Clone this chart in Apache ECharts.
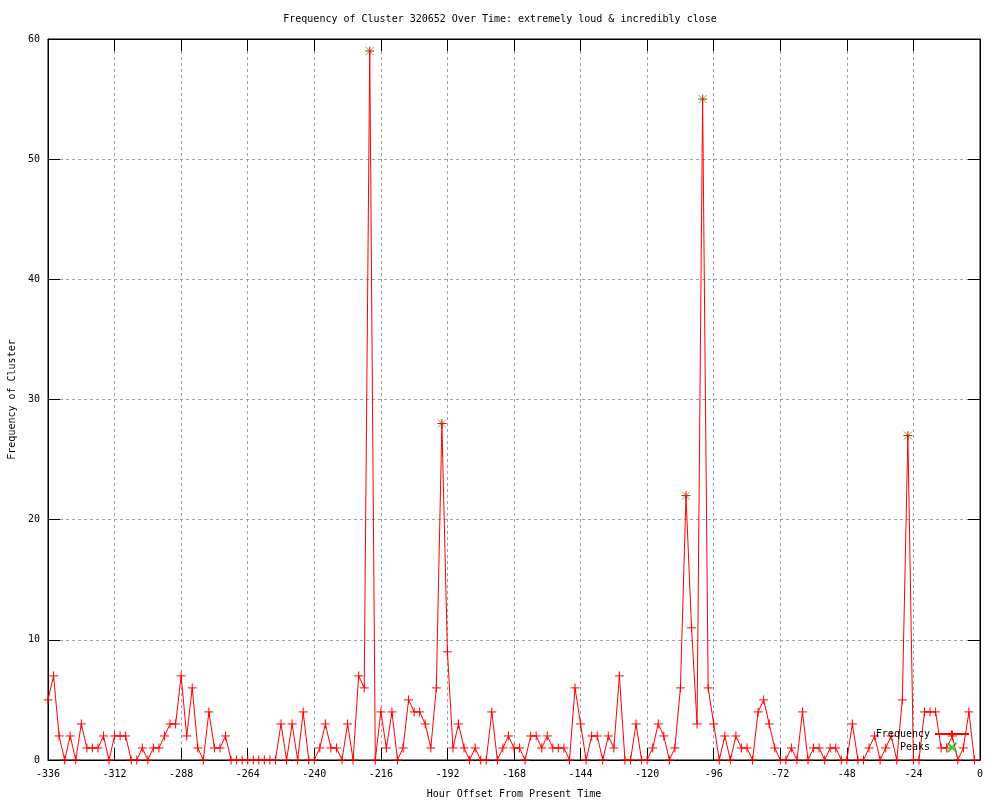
<!DOCTYPE html>
<html>
<head>
<meta charset="utf-8">
<script src="https://cdn.jsdelivr.net/npm/echarts@6/dist/echarts.min.js"></script>
<style>
html,body{margin:0;padding:0;background:#fff;}
#chart{width:1000px;height:800px;}
</style>
</head>
<body>
<div id="chart"></div>
<script>
const titleText = 'Frequency of Cluster 320652 Over Time: extremely loud & incredibly close';
const xAxisName = 'Hour Offset From Present Time';
const yAxisName = 'Frequency of Cluster';
const startHour = -336;
const stepHours = 2;
const frequency = [
  5,7,2,0,2,0,3,1,1,1,2,0,2,2,2,0,0,1,0,1,
  1,2,3,3,7,2,6,1,0,4,1,1,2,0,0,0,0,0,0,0,
  0,0,3,0,3,0,4,0,0,1,3,1,1,0,3,0,7,6,59,0,
  4,1,4,0,1,5,4,4,3,1,6,28,9,1,3,1,0,1,0,0,
  4,0,1,2,1,1,0,2,2,1,2,1,1,1,0,6,3,0,2,2,
  0,2,1,7,0,0,3,0,0,1,3,2,0,1,6,22,11,3,55,6,
  3,0,2,0,2,1,1,0,4,5,3,1,0,0,1,0,4,0,1,1,
  0,1,1,0,0,3,0,0,1,2,0,1,2,0,5,27,0,0,4,4,
  4,1,1,2,0,1,4,0
];
const peakHours = [-220, -194, -106, -100, -26];
const peakValues = [59, 28, 22, 55, 27];

const hours = frequency.map((_, i) => startHour + stepHours * i);
const freqData = hours.map((h, i) => [h, frequency[i]]);
const peakData = peakHours.map((h, i) => [h, peakValues[i]]);

const FONT = 'DejaVu Sans Mono';
const txt = {fontFamily: FONT, fontSize: 10, color: '#000'};

const chart = echarts.init(document.getElementById('chart'), null, {renderer: 'canvas'});
const xBase = {
  type: 'value', min: -336, max: 0, interval: 24,
  axisLine: {show: true, onZero: false, lineStyle: {color: '#000', width: 1}},
  axisTick: {show: true, inside: true, length: 12, lineStyle: {color: '#000'}},
  splitLine: {show: false}
};
const yBase = {
  type: 'value', min: 0, max: 60, interval: 10,
  axisLine: {show: true, onZero: false, lineStyle: {color: '#000', width: 1}},
  axisTick: {show: true, inside: true, length: 12, lineStyle: {color: '#000'}},
  splitLine: {show: false}
};
chart.setOption({
  animation: false,
  backgroundColor: '#fff',
  title: {
    text: titleText, left: 'center', top: 9,
    textStyle: Object.assign({}, txt, {fontWeight: 'normal'})
  },
  legend: {
    orient: 'vertical', right: 25, top: 724, align: 'right',
    itemWidth: 34, itemHeight: 9, itemGap: 3,
    textStyle: txt,
    data: [
      {name: 'Frequency'},
      {name: 'Peaks', icon: 'path://M2,2L8,8M8,2L2,8'}
    ]
  },
  grid: {left: 48, right: 20, top: 39, bottom: 40, show: true, borderColor: '#000', borderWidth: 1,
         containLabel: false, outerBoundsMode: 'none'},
  xAxis: [
    Object.assign({}, xBase, {
      position: 'bottom',
      name: xAxisName, nameLocation: 'middle', nameGap: 29, nameTextStyle: txt,
      axisLabel: Object.assign({}, txt, {margin: 9}),
      splitLine: {show: true, lineStyle: {color: '#a0a0a0', type: [3, 3], width: 1}}
    }),
    Object.assign({}, xBase, {position: 'top', axisLabel: {show: false}})
  ],
  yAxis: [
    Object.assign({}, yBase, {
      position: 'left',
      name: yAxisName, nameLocation: 'middle', nameGap: 30, nameTextStyle: txt,
      axisLabel: Object.assign({}, txt, {margin: 8}),
      splitLine: {show: true, lineStyle: {color: '#a0a0a0', type: [3, 3], width: 1}}
    }),
    Object.assign({}, yBase, {position: 'right', axisLabel: {show: false}})
  ],
  series: [
    {
      name: 'Frequency', type: 'line', data: freqData,
      xAxisIndex: 0, yAxisIndex: 0,
      lineStyle: {color: '#ff0000', width: 1},
      symbol: 'path://M0,5L10,5M5,0L5,10', symbolSize: 9, showSymbol: true,
      itemStyle: {color: '#ff0000', borderColor: '#ff0000', borderWidth: 1},
      emphasis: {disabled: true}, z: 3
    },
    {
      name: 'Peaks', type: 'scatter', data: peakData,
      xAxisIndex: 0, yAxisIndex: 0,
      symbol: 'path://M0,0L10,10M10,0L0,10', symbolSize: 8,
      itemStyle: {color: '#00c000', borderColor: '#00c000', borderWidth: 1},
      emphasis: {disabled: true}, z: 2
    }
  ]
});
</script>
</body>
</html>
